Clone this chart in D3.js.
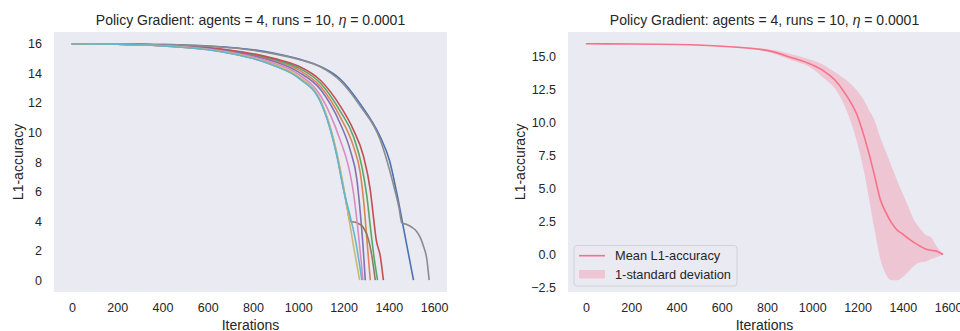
<!DOCTYPE html>
<html>
<head>
<meta charset="utf-8">
<script src="https://cdn.jsdelivr.net/npm/d3@7"></script>
<style>
  body { margin: 0; background: #fff; }
  text { font-family: 'Liberation Sans', Arial, sans-serif; fill: #262626; }
</style>
</head>
<body>
<script>
// colours of the 10 runs (seaborn deep)
const runColors = ['#4C72B0', '#DD8452', '#55A868', '#C44E52', '#8172B3',
  '#937860', '#DA8BC3', '#8C8C8C', '#CCB974', '#64B5CD']

// [iteration, L1-accuracy] for each run
const run1 = [[0, 16], [200, 15.99], [400, 15.95], [600, 15.85], [700, 15.75], [800, 15.6], [900, 15.35], [1000, 14.98], [1100, 14.45], [1185, 13.62], [1273, 11.95], [1362, 9.7], [1403, 8.1], [1435, 5.9], [1472, 2.95], [1509, 0]]
const run2 = [[0, 16], [200, 15.98], [400, 15.9], [600, 15.7], [700, 15.5], [800, 15.23], [900, 14.85], [1000, 14.25], [1100, 13.08], [1185, 11.06], [1244, 9.04], [1274, 7.25], [1291, 5.0], [1303, 2.76], [1318, 0]]
const run3 = [[0, 16], [200, 15.98], [400, 15.91], [600, 15.72], [700, 15.54], [800, 15.28], [900, 14.92], [1000, 14.38], [1100, 13.3], [1185, 11.45], [1244, 9.71], [1281, 7.69], [1303, 5.67], [1318, 3.65], [1332, 1.86], [1350, 0]]
const run4 = [[0, 16], [200, 15.98], [400, 15.92], [600, 15.74], [700, 15.57], [800, 15.33], [900, 14.98], [1000, 14.5], [1100, 13.5], [1185, 11.8], [1244, 10.16], [1288, 8.39], [1318, 6.12], [1335, 3.88], [1344, 2.76], [1362, 1.64], [1376, 0]]
const run5 = [[0, 16], [200, 15.98], [400, 15.9], [600, 15.68], [700, 15.47], [800, 15.18], [900, 14.77], [1000, 14.1], [1100, 12.88], [1185, 10.61], [1229, 8.82], [1259, 6.8], [1274, 4.56], [1286, 2.31], [1296, 0]]
const run6 = [[0, 16], [200, 15.97], [400, 15.86], [600, 15.61], [700, 15.36], [800, 15.02], [900, 14.5], [1000, 13.72], [1100, 12.05], [1171, 8.45], [1200, 6.2], [1215, 5.0], [1229, 3.99], [1259, 3.88], [1288, 3.55], [1310, 2.76], [1325, 1.64], [1340, 0]]
const run7 = [[0, 16], [200, 15.97], [400, 15.88], [600, 15.65], [700, 15.42], [800, 15.1], [900, 14.65], [1000, 13.95], [1100, 12.45], [1185, 9.49], [1222, 7.69], [1244, 5.9], [1262, 3.65], [1274, 1.86], [1286, 0]]
const run8 = [[0, 16], [200, 15.99], [400, 15.95], [600, 15.84], [700, 15.73], [800, 15.56], [900, 15.3], [1000, 14.95], [1100, 14.42], [1185, 13.5], [1273, 11.8], [1362, 9.5], [1406, 7.3], [1428, 6.0], [1445, 4.9], [1457, 3.88], [1479, 3.77], [1500, 3.6], [1523, 3.3], [1540, 2.85], [1553, 2.3], [1568, 1.4], [1578, 0]]
const run9 = [[0, 16], [200, 15.97], [400, 15.87], [600, 15.62], [700, 15.38], [800, 15.04], [900, 14.55], [1000, 13.8], [1100, 12.1], [1171, 8.59], [1200, 6.35], [1222, 4.33], [1244, 2.31], [1271, 0]]
const run10 = [[0, 16], [200, 15.97], [400, 15.86], [600, 15.6], [700, 15.35], [800, 15.0], [900, 14.48], [1000, 13.7], [1100, 12.0], [1171, 8.36], [1200, 6.12], [1229, 4.33], [1252, 2.76], [1281, 0]]
const runs = [run1, run2, run3, run4, run5, run6, run7, run8, run9, run10]

// mean and 1-std band
const iters = [0, 200, 400, 600, 800, 900, 1000, 1050, 1100, 1150, 1200, 1225, 1250, 1275, 1300, 1325, 1350, 1375, 1400, 1425, 1450, 1475, 1500, 1525, 1550, 1578]
const meanL1 = [16, 15.99, 15.95, 15.82, 15.5, 15.0, 14.4, 13.95, 13.25, 12.1, 10.5, 9.2, 7.7, 6.0, 4.2, 3.2, 2.4, 1.85, 1.55, 1.2, 0.9, 0.65, 0.42, 0.32, 0.25, 0]
const upperL1 = [16, 16, 15.96, 15.85, 15.6, 15.25, 14.75, 14.4, 13.85, 13.25, 12.4, 11.8, 11.0, 10.2, 8.9, 7.8, 6.7, 5.6, 4.6, 3.6, 2.6, 2.0, 1.5, 1.3, 0.6, 0]
const lowerL1 = [16, 15.98, 15.94, 15.79, 15.4, 14.8, 14.1, 13.4, 12.6, 11.0, 8.4, 6.6, 4.3, 1.9, -0.3, -1.5, -1.95, -1.95, -1.7, -1.3, -0.85, -0.6, -0.55, -0.35, -0.2, 0]

const xTicks = [0, 200, 400, 600, 800, 1000, 1200, 1400, 1600]
const yTicksLeft = [0, 2, 4, 6, 8, 10, 12, 14, 16]
const yTicksRight = [-2.5, 0, 2.5, 5, 7.5, 10, 12.5, 15]
const legendLabels = ['Mean L1-accuracy', '1-standard deviation']

const W = 960
const H = 331
const plotTop = 32
const plotBottom = 292
const meanColor = '#f77189'

const svg = d3.select('body').append('svg')
  .attr('width', W)
  .attr('height', H)

const pad = ext => {
  const m = (ext[1] - ext[0]) * 0.05
  return [ext[0] - m, ext[1] + m]
}

function panel (left, right, yDomain, yTicks, yFormat, labelX) {
  const g = svg.append('g')
  const x = d3.scaleLinear()
    .domain(pad([0, d3.max(iters)]))
    .range([left, right])
  const y = d3.scaleLinear()
    .domain(pad(yDomain))
    .range([plotBottom, plotTop])

  g.append('rect')
    .attr('x', left)
    .attr('y', plotTop)
    .attr('width', right - left)
    .attr('height', plotBottom - plotTop)
    .style('fill', '#eaeaf2')

  g.append('g')
    .attr('transform', `translate(0, ${plotBottom})`)
    .call(d3.axisBottom(x).tickValues(xTicks).tickSize(0).tickPadding(11.5).tickFormat(d3.format('d')))
  g.append('g')
    .attr('transform', `translate(${left}, 0)`)
    .call(d3.axisLeft(y).tickValues(yTicks).tickSize(0).tickPadding(12).tickFormat(yFormat))
  g.selectAll('.domain').remove()
  g.selectAll('.tick text')
    .attr('font-family', null)
    .style('font-size', '12.5px')
    .style('fill', '#262626')

  g.append('text')
    .attr('x', (left + right) / 2)
    .attr('y', 24.5)
    .style('text-anchor', 'middle')
    .style('font-size', '14px')
    .text('Policy Gradient: agents = 4, runs = 10, ')
    .call(t => t.append('tspan').style('font-style', 'italic').text('η'))
    .call(t => t.append('tspan').text(' = 0.0001'))

  g.append('text')
    .attr('x', (left + right) / 2)
    .attr('y', 329.5)
    .style('text-anchor', 'middle')
    .style('font-size', '14px')
    .text('Iterations')

  g.append('text')
    .attr('transform', `translate(${labelX}, ${(plotTop + plotBottom) / 2}) rotate(-90)`)
    .style('text-anchor', 'middle')
    .style('font-size', '14px')
    .text('L1-accuracy')

  return { g, x, y }
}

// left: every run
const p1 = panel(54, 447, [0, 16], yTicksLeft, d3.format('d'), 23)
const line1 = d3.line()
  .x(d => p1.x(d[0]))
  .y(d => p1.y(d[1]))
  .curve(d3.curveMonotoneX)

p1.g.selectAll('.run')
  .data(runs)
  .enter().append('path')
  .attr('class', 'run')
  .attr('d', line1)
  .style('fill', 'none')
  .style('stroke', (d, i) => runColors[i])
  .style('stroke-width', 1.6)

// right: mean with band
const p2 = panel(568, 961, [d3.min(lowerL1), 16], yTicksRight, d3.format('.1f'), 525)
const band = iters.map((it, i) => ({ it, mean: meanL1[i], lo: lowerL1[i], hi: upperL1[i] }))

p2.g.append('path')
  .datum(band)
  .attr('d', d3.area()
    .x(d => p2.x(d.it))
    .y0(d => p2.y(d.lo))
    .y1(d => p2.y(d.hi))
    .curve(d3.curveMonotoneX))
  .style('fill', meanColor)
  .style('fill-opacity', 0.3)

p2.g.append('path')
  .datum(band)
  .attr('d', d3.line()
    .x(d => p2.x(d.it))
    .y(d => p2.y(d.mean))
    .curve(d3.curveMonotoneX))
  .style('fill', 'none')
  .style('stroke', meanColor)
  .style('stroke-width', 1.6)

const legend = svg.append('g')
  .attr('transform', 'translate(574, 245.5)')

legend.append('rect')
  .attr('width', 163)
  .attr('height', 40.5)
  .attr('rx', 3)
  .style('fill', '#eaeaf2')
  .style('fill-opacity', 0.8)
  .style('stroke', '#cccccc')
  .style('stroke-width', 0.8)

legend.append('line')
  .attr('x1', 5)
  .attr('x2', 31)
  .attr('y1', 10.2)
  .attr('y2', 10.2)
  .style('stroke', meanColor)
  .style('stroke-width', 1.6)

legend.append('rect')
  .attr('x', 5)
  .attr('y', 24.5)
  .attr('width', 26)
  .attr('height', 8.5)
  .style('fill', meanColor)
  .style('fill-opacity', 0.3)

legend.selectAll('.lab')
  .data(legendLabels)
  .enter().append('text')
  .attr('class', 'lab')
  .attr('x', 41)
  .attr('y', (d, i) => 14.8 + i * 18.3)
  .style('font-size', '12.8px')
  .text(d => d)
</script>
</body>
</html>
